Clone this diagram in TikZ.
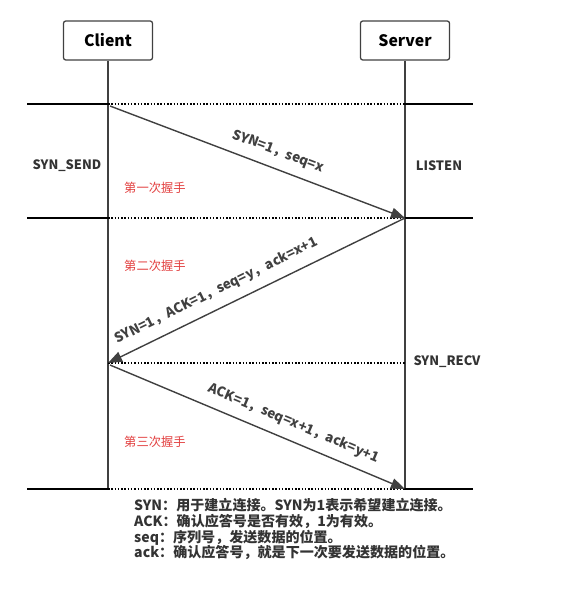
\documentclass[tikz,border=0pt]{standalone}
\usepackage{fontspec}
\setmainfont{Noto Sans CJK SC}
\usetikzlibrary{arrows.meta}

\definecolor{linegray}{RGB}{64,64,64}
\definecolor{textgray}{RGB}{51,51,51}
\definecolor{stepred}{RGB}{226,64,64}

\begin{document}
\begin{tikzpicture}[x=0.03cm, y=-0.03cm,
  host/.style={draw=linegray, line width=1.1pt, rounded corners=2pt,
    minimum width=2.67cm, minimum height=1.17cm,
    font=\bfseries\fontsize{13.5}{15}\selectfont},
  level/.style={line width=1.5pt},
  gap/.style={line width=1.3pt, dash pattern=on 1.3pt off 1.5pt},
  life/.style={draw=linegray, line width=1.1pt},
  msg/.style={draw=linegray, line width=1.2pt, -{Triangle[length=12pt,width=9pt]}},
  state/.style={text=textgray, font=\bfseries\fontsize{11}{13}\selectfont},
  msglabel/.style={sloped, above=5pt, text=linegray,
    font=\bfseries\fontsize{11.5}{13}\selectfont},
  steplabel/.style={text=stepred, font=\fontsize{10.5}{12}\selectfont},
  notes/.style={text=textgray, align=left, inner sep=0pt,
    font=\bfseries\fontsize{12}{13.6}\selectfont}]
\useasboundingbox (0,0) rectangle (585,591);

% Hosts
\node[host] (client) at (108,40.5) {Client};
\node[host] (server) at (405,40.5) {Server};

% Levels
\foreach \y/\n in {104/1,218/2,363/3,489/4} {
  \coordinate (l\n) at (27,\y);
  \coordinate (c\n) at (108,\y);
  \coordinate (s\n) at (405,\y);
  \coordinate (r\n) at (473,\y);
}
\draw[life] (client.south) -- (c4);
\draw[life] (server.south) -- (s4);
\foreach \n in {1,2,4} {
  \draw[level] (l\n) -- (c\n);
  \draw[level] (s\n) -- (r\n);
}
\foreach \n in {1,2,3,4}
  \draw[gap] (c\n) -- (s\n);

% Messages
\draw[msg] ([shift={(2,2)}]c1) -- (s2)
  node[msglabel, pos=0.55] (syn) {SYN=1，seq=x};
\draw[msg] (s2) -- (c3)
  node[msglabel, pos=0.61] (synack) {SYN=1，ACK=1，seq=y，ack=x+1};
\draw[msg] ([shift={(2,2)}]c3) -- (s4)
  node[msglabel, pos=0.6] (ack) {ACK=1，seq=x+1，ack=y+1};

% States
\node[state] (synsend) at (67,166) {SYN\_SEND};
\node[state] (listen) at (439,166) {LISTEN};
\node[state] (synrecv) at (447,362) {SYN\_RECV};

% Steps
\node[steplabel] (first) at (155,188) {第一次握手};
\node[steplabel] (second) at (155,266) {第二次握手};
\node[steplabel] (third) at (155,442) {第三次握手};

% Notes
\node[notes, anchor=west] (legend) at (134,529) {SYN：用于建立连接。SYN为1表示希望建立连接。\\
ACK：确认应答号是否有效，1为有效。\\
seq：序列号，发送数据的位置。\\
ack：确认应答号，就是下一次要发送数据的位置。};
\end{tikzpicture}
\end{document}
